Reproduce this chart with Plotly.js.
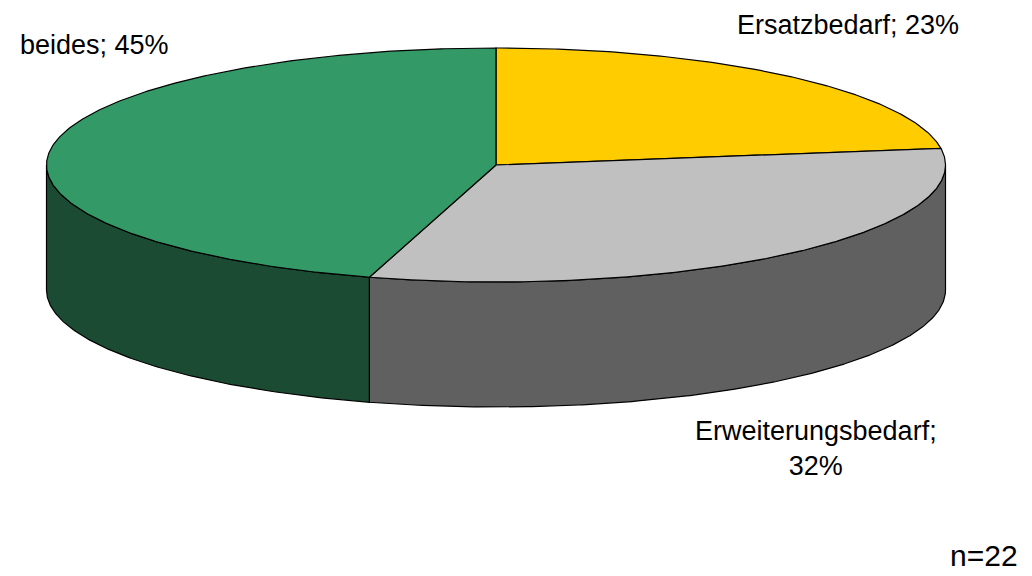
<!DOCTYPE html>
<html>
<head>
<meta charset="utf-8">
<script src="https://cdn.plot.ly/plotly-3.0.1.min.js"></script>
<style>html,body{margin:0;padding:0;background:#fff;}#chart{width:1032px;height:576px;}</style>
</head>
<body>
<div id="chart"></div>
<script>
// ---- data ----
const categories = ['Ersatzbedarf', 'Erweiterungsbedarf', 'beides'];
const counts = [5, 7, 10];
const topColors = ['#FFCC00', '#C0C0C0', '#339966'];
const sideColors = ['#806600', '#606060', '#1C4B33'];

// ---- layout of the 3D pie (pixel space) ----
const geom = { cx: 496, cy: 165, rx: 449.5, ry: 117, depth: 125, start: 90 };
const labelPos = [
  { x: 848, y: 25, br: false },
  { x: 816, y: 448, br: true },
  { x: 94, y: 45, br: false }
];

const total = counts.reduce((a, b) => a + b, 0);
const rad = d => d * Math.PI / 180;
function pt(theta, dy) {
  return [geom.cx + geom.rx * Math.cos(rad(theta)), geom.cy - geom.ry * Math.sin(rad(theta)) + dy];
}
function arc(from, to, dy) {
  const n = Math.max(2, Math.ceil(Math.abs(from - to) / 0.5));
  const out = [];
  for (let i = 0; i <= n; i++) out.push(pt(from + (to - from) * i / n, dy));
  return out;
}

const slices = [];
let a = geom.start;
counts.forEach((v, i) => {
  const a2 = a - 360 * v / total;
  slices.push({ i, a1: a, a2 });
  a = a2;
});

const traces = [];
// side walls (front half only: theta in [-180,0] + k*360)
slices.forEach(s => {
  for (let k = -2; k <= 1; k++) {
    const lo = Math.max(s.a2, -180 + 360 * k);
    const hi = Math.min(s.a1, 0 + 360 * k);
    if (hi - lo > 0.01) {
      const pts = arc(hi, lo, 0).concat(arc(lo, hi, geom.depth));
      pts.push(pts[0]);
      traces.push({
        type: 'scatter', mode: 'lines', fill: 'toself',
        x: pts.map(p => p[0]), y: pts.map(p => p[1]),
        fillcolor: sideColors[s.i], line: { color: '#000', width: 1.2 },
        hoverinfo: 'skip', showlegend: false
      });
    }
  }
});
// top faces
slices.forEach(s => {
  const pts = [[geom.cx, geom.cy]].concat(arc(s.a1, s.a2, 0));
  pts.push([geom.cx, geom.cy]);
  traces.push({
    type: 'scatter', mode: 'lines', fill: 'toself',
    x: pts.map(p => p[0]), y: pts.map(p => p[1]),
    fillcolor: topColors[s.i], line: { color: '#000', width: 1.2 },
    hoverinfo: 'skip', showlegend: false
  });
});

const font = { family: 'Liberation Sans, Arial, sans-serif', size: 27, color: '#000' };
const annotations = categories.map((c, i) => {
  const pct = Math.round(100 * counts[i] / total);
  return {
    x: labelPos[i].x, y: labelPos[i].y, xref: 'x', yref: 'y',
    text: c + ';' + (labelPos[i].br ? '<br>' : ' ') + pct + '%',
    showarrow: false, xanchor: 'center', yanchor: 'middle', align: 'center', font
  };
});
annotations.push({
  x: 984, y: 555, xref: 'x', yref: 'y', text: 'n=' + total,
  showarrow: false, xanchor: 'center', yanchor: 'middle',
  font: { family: 'Liberation Sans, Arial, sans-serif', size: 30, color: '#000' }
});

const layout = {
  width: 1032, height: 576,
  margin: { l: 0, r: 0, t: 0, b: 0 },
  paper_bgcolor: '#fff', plot_bgcolor: '#fff',
  xaxis: { range: [0, 1032], visible: false, fixedrange: true },
  yaxis: { range: [576, 0], visible: false, fixedrange: true },
  annotations, showlegend: false
};
Plotly.newPlot('chart', traces, layout, { staticPlot: true, displayModeBar: false });
</script>
</body>
</html>
